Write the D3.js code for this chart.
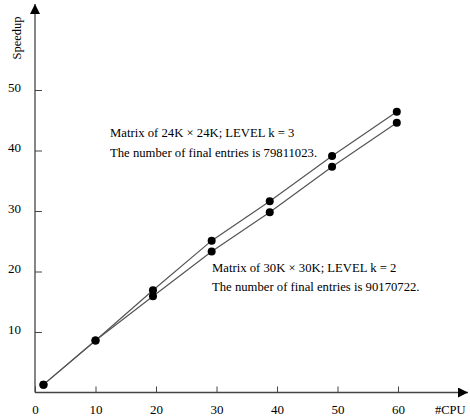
<!DOCTYPE html>
<html><head><meta charset="utf-8">
<script src="https://cdn.jsdelivr.net/npm/d3@7"></script>
<style>
html,body{margin:0;padding:0;background:#fff;}
svg{display:block;font-family:"Liberation Serif","Times New Roman",serif;}
</style></head>
<body>
<svg id="chart" width="470" height="417"></svg>
<script>
const cpus = [1.4, 10, 19.5, 29.2, 38.8, 49.1, 59.8];
const speedup24K = [1.3, 8.6, 16.9, 25.1, 31.6, 39.1, 46.4];
const speedup30K = [1.3, 8.6, 15.9, 23.3, 29.8, 37.3, 44.6];
const xTicks = [0, 10, 20, 30, 40, 50, 60];
const yTicks = [10, 20, 30, 40, 50];
const note24K = ["Matrix of 24K \u00d7 24K; LEVEL k = 3", "The number of final entries is 79811023."];
const note30K = ["Matrix of 30K \u00d7 30K; LEVEL k = 2", "The number of final entries is 90170722."];

const svg = d3.select("#chart");
const x = d3.scaleLinear().domain([0, 60]).range([35, 398]);
const y = d3.scaleLinear().domain([0, 50]).range([392.5, 90]);
const axisColor = "#444";

svg.append("defs").append("marker").attr("id","arr").attr("viewBox","0 0 10 10")
  .attr("refX",10).attr("refY",5).attr("markerWidth",10).attr("markerHeight",10)
  .attr("markerUnits","userSpaceOnUse").attr("orient","auto")
  .append("path").attr("d","M0,0 L10,5 L0,10 Z").attr("fill","#000");

const xAxis = d3.axisBottom(x).tickValues(xTicks).tickSize(-6).tickPadding(12).tickFormat(d3.format("d"));
const gx = svg.append("g").attr("transform", `translate(0,${y(0)})`).call(xAxis);
gx.select(".domain").remove();
gx.selectAll(".tick line").attr("stroke", axisColor);
gx.selectAll(".tick text").attr("font-size", "13px").attr("font-family","Liberation Serif, serif").attr("fill","#000");

const yAxis = d3.axisLeft(y).tickValues(yTicks).tickSize(-7).tickPadding(14).tickFormat(d3.format("d"));
const gy = svg.append("g").attr("transform", `translate(${x(0)},0)`).call(yAxis);
gy.select(".domain").remove();
gy.selectAll(".tick line").attr("stroke", axisColor);
gy.selectAll(".tick text").attr("font-size", "13px").attr("font-family","Liberation Serif, serif").attr("fill","#000").attr("dy","0.1em");

svg.append("line").attr("x1", x(0)).attr("x2", 468).attr("y1", y(0)).attr("y2", y(0))
  .attr("stroke", axisColor).attr("stroke-width", 1.3).attr("marker-end", "url(#arr)");
svg.append("line").attr("x1", x(0)).attr("x2", x(0)).attr("y1", y(0)).attr("y2", 4)
  .attr("stroke", axisColor).attr("stroke-width", 1.3).attr("marker-end", "url(#arr)");

svg.append("text").attr("transform", `translate(21,38) rotate(-90)`).attr("text-anchor","middle")
  .attr("font-size","12.5px").text("Speedup");
svg.append("text").attr("x", 435).attr("y", 414).attr("font-size","12.5px").text("#CPU");

const line = d3.line().x(d => x(d[0])).y(d => y(d[1]));
[speedup24K, speedup30K].forEach(vals => {
  const pts = cpus.map((c, i) => [c, vals[i]]);
  svg.append("path").datum(pts).attr("d", line).attr("fill","none").attr("stroke","#555").attr("stroke-width",1.2);
  svg.append("g").selectAll("circle").data(pts).join("circle")
    .attr("cx", d => x(d[0])).attr("cy", d => y(d[1])).attr("r", 4).attr("fill","#000");
});

function note(lines, x0, y0, dy) {
  const t = svg.append("text").attr("font-size","12.7px").attr("fill","#000");
  lines.forEach((s, i) => t.append("tspan").attr("x", x0).attr("y", y0 + i * dy).text(s));
}
note(note24K, 110, 137, 20);
note(note30K, 212, 272, 19);
</script>
</body></html>
